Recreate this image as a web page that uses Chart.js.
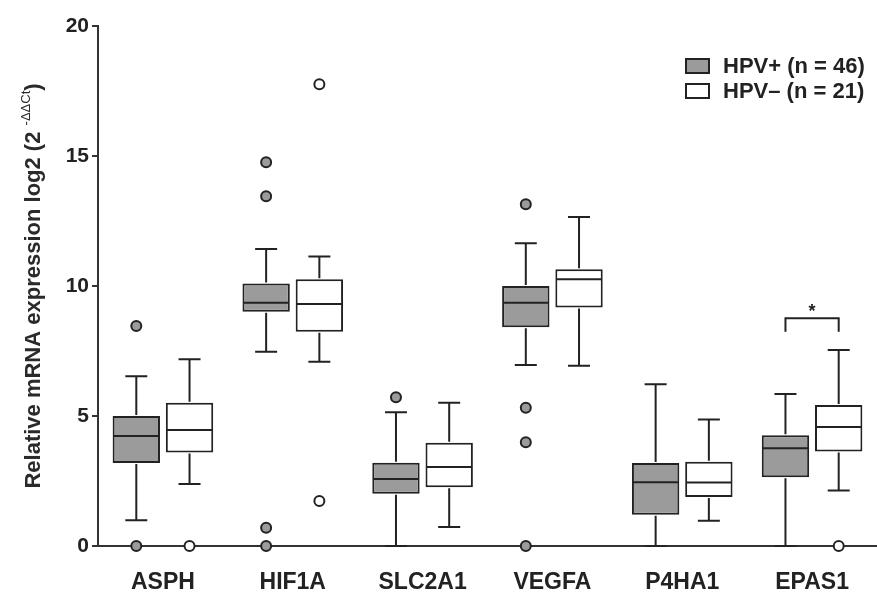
<!DOCTYPE html>
<html>
<head>
<meta charset="utf-8">
<script src="https://cdn.jsdelivr.net/npm/chart.js@4/dist/chart.umd.min.js"></script>
<style>
  html, body { margin: 0; padding: 0; background: #fff; }
  #wrap { width: 877px; height: 592px; }
</style>
</head>
<body>
<div id="wrap"><canvas id="box_chart"></canvas></div>
<script>
const categories = ['ASPH', 'HIF1A', 'SLC2A1', 'VEGFA', 'P4HA1', 'EPAS1'];
const yTicks = [0, 5, 10, 15, 20];

// HPV+ (n = 46)
const posMin    = [0.99, 7.47, 0.00, 6.96, 0.00, 0.00];
const posQ1     = [3.19, 9.01, 2.01, 8.41, 1.20, 2.64];
const posMedian = [4.23, 9.36, 2.58, 9.36, 2.45, 3.76];
const posQ3     = [5.00, 10.10, 3.20, 10.00, 3.19, 4.26];
const posMax    = [6.53, 11.42, 5.14, 11.64, 6.22, 5.85];
const posOutliers = [[8.46, 0], [14.76, 13.45, 0.70, 0], [5.72], [13.14, 5.32, 3.99, 0], [], []];

// HPV– (n = 21)
const negMin    = [2.38, 7.09, 0.73, 6.93, 0.97, 2.13];
const negQ1     = [3.60, 8.24, 2.26, 9.17, 1.88, 3.63];
const negMedian = [4.46, 9.31, 3.04, 10.26, 2.44, 4.58];
const negQ3     = [5.51, 10.26, 3.97, 10.64, 3.24, 5.42];
const negMax    = [7.18, 11.13, 5.51, 12.65, 4.87, 7.54];
const negOutliers = [[0], [17.76, 1.73], [], [], [], [0]];

// significance bracket over EPAS1
const bracketCategory = 'EPAS1';
const bracketValues = [8.24, 8.76];

const FONT = "'Liberation Sans', Arial, Helvetica, sans-serif";
const INK = '#222';
const GRAY = '#9b9b9b';

const stats = [
    { min: posMin, med: posMedian, max: posMax, out: posOutliers, fill: GRAY },
    { min: negMin, med: negMedian, max: negMax, out: negOutliers, fill: '#ffffff' }
];

// medians, whiskers, outliers, bracket
const boxDecor = {
    id: 'boxDecor',
    afterDatasetsDraw(chart) {
        const ctx = chart.ctx;
        const y = chart.scales.y;
        ctx.save();
        ctx.strokeStyle = INK;
        ctx.lineWidth = 2;
        stats.forEach((s, d) => {
            const meta = chart.getDatasetMeta(d);
            meta.data.forEach((el, i) => {
                const x = el.x, hw = el.width / 2, cap = 11;
                const top = Math.min(el.y, el.base), bot = Math.max(el.y, el.base);
                ctx.beginPath();
                // median
                ctx.moveTo(x - hw + 1, y.getPixelForValue(s.med[i]));
                ctx.lineTo(x + hw - 1, y.getPixelForValue(s.med[i]));
                // upper whisker
                const yMax = y.getPixelForValue(s.max[i]);
                ctx.moveTo(x, top - 1);
                ctx.lineTo(x, yMax);
                ctx.moveTo(x - cap, yMax);
                ctx.lineTo(x + cap, yMax);
                // lower whisker
                const yMin = y.getPixelForValue(s.min[i]);
                ctx.moveTo(x, bot + 1);
                ctx.lineTo(x, yMin);
                ctx.moveTo(x - cap, yMin);
                ctx.lineTo(x + cap, yMin);
                ctx.stroke();
                // outliers
                s.out[i].forEach(v => {
                    ctx.beginPath();
                    ctx.arc(x, y.getPixelForValue(v), 5, 0, Math.PI * 2);
                    ctx.fillStyle = s.fill;
                    ctx.fill();
                    ctx.stroke();
                });
            });
        });
        // bracket
        const ci = categories.indexOf(bracketCategory);
        const x1 = chart.getDatasetMeta(0).data[ci].x;
        const x2 = chart.getDatasetMeta(1).data[ci].x;
        const yLeg = y.getPixelForValue(bracketValues[0]);
        const yTop = y.getPixelForValue(bracketValues[1]);
        ctx.beginPath();
        ctx.moveTo(x1, yLeg);
        ctx.lineTo(x1, yTop);
        ctx.lineTo(x2, yTop);
        ctx.lineTo(x2, yLeg);
        ctx.stroke();
        ctx.fillStyle = INK;
        ctx.font = 'bold 18px ' + FONT;
        ctx.textAlign = 'center';
        ctx.textBaseline = 'alphabetic';
        ctx.fillText('*', (x1 + x2) / 2, yTop - 1);
        ctx.restore();
    }
};

// y-axis title with superscript and top-right legend
const extras = {
    id: 'extras',
    afterDraw(chart) {
        const ctx = chart.ctx;
        const area = chart.chartArea;
        ctx.save();
        ctx.fillStyle = '#2a2a2a';
        ctx.textBaseline = 'alphabetic';
        const main = 'Relative mRNA expression log2 (2 ';
        const sup = '-\u0394\u0394Ct';
        const close = ')';
        ctx.font = 'bold 22px ' + FONT;
        const wMain = ctx.measureText(main).width;
        const wClose = ctx.measureText(close).width;
        ctx.font = '13px ' + FONT;
        const wSup = ctx.measureText(sup).width;
        const total = wMain + wSup + wClose;
        ctx.translate(40, (area.top + area.bottom) / 2);
        ctx.rotate(-Math.PI / 2);
        let pos = -total / 2;
        ctx.font = 'bold 22px ' + FONT;
        ctx.textAlign = 'left';
        ctx.fillText(main, pos, 0);
        pos += wMain;
        ctx.font = '13px ' + FONT;
        ctx.fillText(sup, pos, -10);
        pos += wSup;
        ctx.font = 'bold 22px ' + FONT;
        ctx.fillText(close, pos, 0);
        ctx.restore();

        // legend
        ctx.save();
        ctx.font = 'bold 22px ' + FONT;
        ctx.textBaseline = 'middle';
        ctx.textAlign = 'left';
        chart.data.datasets.forEach((ds, d) => {
            const top = 59 + d * 25;
            ctx.fillStyle = ds.backgroundColor;
            ctx.fillRect(686, top, 23, 14);
            ctx.strokeStyle = INK;
            ctx.lineWidth = 2;
            ctx.strokeRect(686, top, 23, 14);
            ctx.fillStyle = INK;
            ctx.fillText(ds.label, 723, top + 8);
        });
        ctx.restore();
    }
};

const ctx1 = document.getElementById('box_chart');

const boxChart = new Chart(ctx1, {
    type: 'bar',
    data: {
        labels: categories,
        datasets: [{
            label: 'HPV+ (n = 46)',
            data: categories.map((c, i) => [posQ1[i], posQ3[i]]),
            backgroundColor: GRAY,
            borderColor: INK,
            borderWidth: 2,
            borderSkipped: false
        }, {
            label: 'HPV\u2013 (n = 21)',
            data: categories.map((c, i) => [negQ1[i], negQ3[i]]),
            backgroundColor: '#ffffff',
            borderColor: INK,
            borderWidth: 2,
            borderSkipped: false
        }]
    },
    options: {
        responsive: true,
        maintainAspectRatio: false,
        animation: false,
        categoryPercentage: 0.82,
        barPercentage: 0.89,
        layout: { padding: { top: 26, right: 0, bottom: 0, left: 0 } },
        plugins: {
            legend: { display: false },
            tooltip: { enabled: false }
        },
        scales: {
            x: {
                grid: { display: false },
                border: { display: true, color: '#333', width: 2 },
                ticks: {
                    color: INK,
                    padding: 15,
                    font: { family: FONT, size: 23, weight: 'bold' }
                },
                afterFit: (scale) => { scale.height = 46; }
            },
            y: {
                min: 0,
                max: 20,
                afterBuildTicks: (scale) => { scale.ticks = yTicks.map(v => ({ value: v })); },
                grid: { drawOnChartArea: false, drawTicks: true, tickLength: 6, color: '#333', lineWidth: 2 },
                border: { display: true, color: '#333', width: 2 },
                ticks: {
                    color: INK,
                    padding: 3,
                    font: { family: FONT, size: 21, weight: 'bold' }
                },
                afterFit: (scale) => { scale.width = 98; }
            }
        }
    },
    plugins: [boxDecor, extras]
});
</script>
</body>
</html>
